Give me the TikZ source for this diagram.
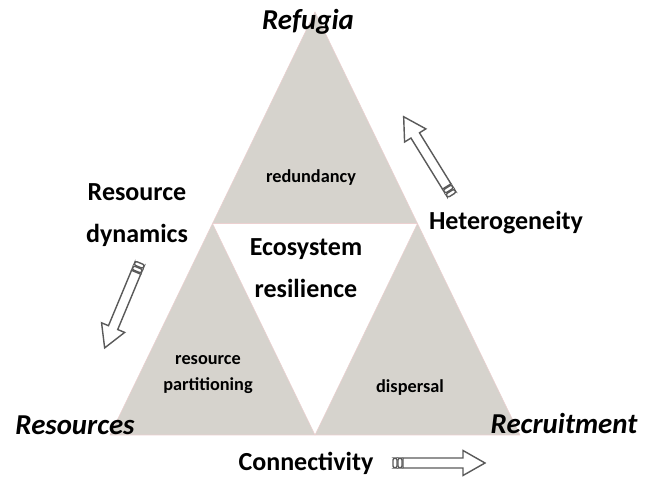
\documentclass[tikz,border=0pt]{standalone}
\usepackage{fontspec}
\setmainfont{Carlito}
\usepackage{xcolor}
\usepackage{tikz}
\usetikzlibrary{positioning, calc}
\definecolor{sectorcolor}{RGB}{214,211,205}
\definecolor{edgecolor}{RGB}{236,208,208}
\definecolor{arrowcolor}{RGB}{90,90,90}

\begin{document}
\begin{tikzpicture}[
    x=0.025cm, y=0.025cm,
    sector/.style={fill=sectorcolor, draw=edgecolor, line width=0.4pt},
    bigtext/.style={font=\fontsize{18.5}{30}\selectfont\bfseries, align=center},
    smalltext/.style={font=\fontsize{13}{18.5}\selectfont\bfseries, align=center},
    corner/.style={font=\fontsize{20.5}{24}\selectfont\bfseries\itshape},
    hollow arrow/.pic={
        \draw[arrowcolor, line width=1pt, rounded corners=1.5pt] (0,-5) rectangle (4,5);
        \draw[arrowcolor, line width=1pt, rounded corners=1.5pt] (5,-5) rectangle (9,5);
        \draw[arrowcolor, line width=1pt, fill=white, line join=miter]
            (10,-5) -- (70,-5) -- (70,-12.5) -- (92,0) -- (70,12.5) -- (70,5) -- (10,5) -- cycle;
    }
]
    \useasboundingbox (0,0) rectangle (651,479);

    % Corners of the big triangle
    \coordinate (top) at (315,467);
    \coordinate (bl) at (110,44);
    \coordinate (br) at (520,44);
    \coordinate (lm) at ($(top)!0.5!(bl)$);
    \coordinate (rm) at ($(top)!0.5!(br)$);
    \coordinate (bm) at ($(bl)!0.5!(br)$);

    % Three shaded sub-triangles
    \draw[sector] (top) -- (lm) -- (rm) -- cycle;
    \draw[sector] (lm) -- (bl) -- (bm) -- cycle;
    \draw[sector] (rm) -- (bm) -- (br) -- cycle;

    % Texts inside
    \node[bigtext] (eco) at (306,211) {Ecosystem\\resilience};
    \node[smalltext] (red) at (311,301) {redundancy};
    \node[smalltext] (part) at (208,104) {resource\\partitioning};
    \node[smalltext] (disp) at (410,91) {dispersal};

    % Corner labels
    \node[corner] (ref) at (308,457) {Refugia};
    \node[corner] (res) at (75,54) {Resources};
    \node[corner] (rec) at (564,56) {Recruitment};

    % Side labels
    \node[bigtext] (dyn) at (137,264) {Resource\\dynamics};
    \node[bigtext] (het) at (506,256) {Heterogeneity};
    \node[bigtext] (con) at (306,16) {Connectivity};

    % Hollow arrows
    \pic[rotate=121.7] at (452,284) {hollow arrow};
    \pic[rotate=247.4] at (140,216) {hollow arrow};
    \pic at (393,16) {hollow arrow};
\end{tikzpicture}
\end{document}
